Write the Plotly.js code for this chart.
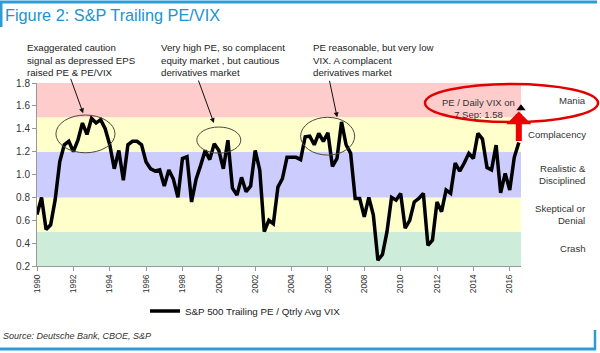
<!DOCTYPE html>
<html>
<head>
<meta charset="utf-8">
<script src="https://cdn.plot.ly/plotly-3.0.1.min.js"></script>
<style>html,body{margin:0;padding:0;background:#fff;}#chart{width:600px;height:353px;}</style>
</head>
<body>
<div id="chart"></div>
<script>
// Quarterly S&P 500 trailing PE / quarterly average VIX, starting 1990 Q1
const startYear = 1990;
const peVix = [
  0.65, 0.80, 0.52, 0.56,
  0.78, 1.11, 1.26, 1.29,
  1.20, 1.30, 1.45, 1.35,
  1.49, 1.45, 1.48, 1.40,
  1.26, 1.05, 1.21, 0.95,
  1.26, 1.29, 1.29, 1.26,
  1.11, 1.05, 1.03, 1.04,
  0.90, 1.04, 0.96, 0.80,
  1.14, 1.155, 0.76, 0.96,
  1.08, 1.21, 1.13, 1.27,
  1.21, 1.05, 1.30, 0.88,
  0.82, 0.975, 0.85, 0.90,
  1.21, 1.04, 0.50, 0.60,
  0.57, 0.89, 0.965, 1.15,
  1.15, 1.15, 1.13, 1.33,
  1.335, 1.26, 1.36, 1.29,
  1.365, 1.07, 1.14, 1.46,
  1.26, 1.185, 0.79, 0.79,
  0.63, 0.80, 0.645, 0.25,
  0.30, 0.50, 0.80, 0.775,
  0.835, 0.53, 0.60, 0.76,
  0.79, 0.835, 0.38, 0.425,
  0.76, 0.675, 0.865, 0.835,
  1.10, 1.03, 1.10, 1.185,
  1.14, 1.36, 1.31, 1.06,
  1.04, 1.257, 0.84, 1.01,
  0.865, 1.15, 1.28
];
const quarters = peVix.map((v, i) => startYear + i / 4);

// Latest daily reading (7 Sep)
const dailyX = [2016.62];
const dailyY = [1.58];

// Zones
const zoneBounds = [0.2, 0.5, 0.8, 1.2, 1.5, 1.8];
const zoneColors = ['#cdedda', '#ffffcc', '#ccccff', '#ffffcc', '#ffcccc'];
const zoneLabels = ['Crash', 'Skeptical or<br>Denial', 'Realistic &<br>Disciplined', 'Complacency', 'Mania'];
const zoneLabelY = [0.35, 0.65, 1.0, 1.35, 1.65];

const xTicks = [1990,1992,1994,1996,1998,2000,2002,2004,2006,2008,2010,2012,2014,2016];
const yTicks = [0.2,0.4,0.6,0.8,1.0,1.2,1.4,1.6,1.8];

// pixel -> paper helpers (plot area 37..521 x, 83..266 y)
const PL = 37, PR = 521, PT = 83, PB = 266;
const px = x => (x - PL) / (PR - PL);
const py = y => (PB - y) / (PB - PT);

const shapes = [];
for (let i = 0; i < zoneColors.length; i++) {
  shapes.push({type:'rect', xref:'paper', yref:'y', x0:0, x1:1, y0:zoneBounds[i], y1:zoneBounds[i+1],
    fillcolor:zoneColors[i], line:{width:0}, layer:'below'});
}
// highlight ellipses
const ellipses = [
  [1991.04, 1994.29, 1.19, 1.52],
  [1998.79, 2001.21, 1.187, 1.415],
  [2004.5, 2007.47, 1.17, 1.50]
];
ellipses.forEach(e => shapes.push({type:'circle', xref:'x', yref:'y', x0:e[0], x1:e[1], y0:e[2], y1:e[3],
  line:{color:'#4a4a3a', width:1}}));
// red ellipse
shapes.push({type:'circle', xref:'paper', yref:'paper', x0:px(425), x1:px(598), y0:py(122), y1:py(84),
  line:{color:'#e00000', width:2.5}});
// frame lines
const blue = '#2f9bd5';
shapes.push({type:'line', xref:'paper', yref:'paper', x0:px(0), x1:px(597), y0:py(2), y1:py(2), line:{color:blue, width:3}});
shapes.push({type:'line', xref:'paper', yref:'paper', x0:px(1), x1:px(1), y0:py(2), y1:py(27), line:{color:blue, width:3}});
shapes.push({type:'line', xref:'paper', yref:'paper', x0:px(0), x1:px(596), y0:py(349), y1:py(349), line:{color:blue, width:3}});
shapes.push({type:'line', xref:'paper', yref:'paper', x0:px(595), x1:px(595), y0:py(330), y1:py(350), line:{color:blue, width:2.5}});

const txtFont = {family:'Liberation Sans, Arial, sans-serif', size:9.7, color:'#222'};
const annotations = [
  {xref:'paper', yref:'paper', x:px(25), y:py(40), xanchor:'left', yanchor:'top', align:'left', showarrow:false,
   text:'Exaggerated caution<br>signal as depressed EPS<br>raised PE & PE/VIX', font:txtFont},
  {xref:'paper', yref:'paper', x:px(159), y:py(40), xanchor:'left', yanchor:'top', align:'left', showarrow:false,
   text:'Very high PE, so complacent<br>equity market , but cautious<br>derivatives market', font:txtFont},
  {xref:'paper', yref:'paper', x:px(311), y:py(40), xanchor:'left', yanchor:'top', align:'left', showarrow:false,
   text:'PE reasonable, but very low<br>VIX. A complacent<br>derivatives market', font:txtFont},
  // black arrows
  {x:1992.54, y:1.535, xref:'x', yref:'y', ax:-13, ay:-36, text:'', showarrow:true, arrowhead:2, arrowsize:1, arrowwidth:1, arrowcolor:'#111'},
  {x:1999.73, y:1.45, xref:'x', yref:'y', ax:-16, ay:-44, text:'', showarrow:true, arrowhead:2, arrowsize:1, arrowwidth:1, arrowcolor:'#111'},
  {x:2006.51, y:1.50, xref:'x', yref:'y', ax:-8, ay:-38, text:'', showarrow:true, arrowhead:2, arrowsize:1, arrowwidth:1, arrowcolor:'#111'},
  // red arrow
  {x:2016.5, y:1.55, xref:'x', yref:'y', ax:2016.5, ay:1.28, axref:'x', ayref:'y', text:'', showarrow:true,
   arrowhead:1, arrowsize:0.7, arrowwidth:6, arrowcolor:'#ee0000'},
  // red ellipse text
  {xref:'paper', yref:'paper', x:px(478), y:py(108), xanchor:'center', yanchor:'middle', align:'center', showarrow:false,
   text:'PE / Daily VIX on<br>7 Sep: 1.58', font:{family:'Liberation Sans, Arial, sans-serif', size:9.5, color:'#333'}},
  // source
  {xref:'paper', yref:'paper', x:px(1), y:py(336), xanchor:'left', yanchor:'middle', showarrow:false,
   text:'<i>Source: Deutsche Bank, CBOE, S&P</i>', font:{family:'Liberation Sans, Arial, sans-serif', size:9, color:'#333'}}
];
zoneLabels.forEach((t, i) => annotations.push({xref:'paper', yref:'y', x:px(588), y:zoneLabelY[i], xanchor:'right', yanchor:'middle',
  align:'right', showarrow:false, text:t, font:{family:'Liberation Sans, Arial, sans-serif', size:9.6, color:'#333'}}));

const traces = [
  {x:quarters, y:peVix, type:'scatter', mode:'lines', name:'S&P 500 Trailing PE / Qtrly Avg VIX',
   line:{color:'#000', width:3.5}, cliponaxis:false},
  {x:dailyX, y:dailyY, type:'scatter', mode:'markers', showlegend:false, name:'Daily',
   marker:{symbol:'triangle-up', size:8, color:'#000'}, cliponaxis:false}
];

const layout = {
  width:600, height:353,
  margin:{l:PL, r:600-PR, t:PT, b:353-PB},
  paper_bgcolor:'#fff', plot_bgcolor:'#fff',
  font:{family:'Liberation Sans, Arial, sans-serif', color:'#333'},
  title:{text:'Figure 2: S&P Trailing PE/VIX', x:5/600, xref:'container', xanchor:'left', y:1-15/353, yref:'container', yanchor:'middle',
    font:{family:'Liberation Sans, Arial, sans-serif', size:16.3, color:'#1d93cf'}},
  xaxis:{range:[1990, 2016.62], tickvals:xTicks, ticktext:xTicks.map(String), tickangle:-90,
    showgrid:false, zeroline:false, showline:true, linecolor:'#999', linewidth:1, ticks:'outside', ticklen:4, tickcolor:'#999',
    tickfont:{family:'Liberation Sans Narrow, Arial Narrow, sans-serif', size:8.5, color:'#333'}, fixedrange:true},
  yaxis:{range:[0.2, 1.8], tickvals:yTicks, ticktext:yTicks.map(v => v.toFixed(1)),
    showgrid:false, zeroline:false, showline:true, linecolor:'#999', linewidth:1, ticks:'outside', ticklen:4, tickcolor:'#999',
    tickfont:{family:'Liberation Sans, Arial, sans-serif', size:10, color:'#333'}, fixedrange:true},
  showlegend:true,
  legend:{orientation:'h', x:px(145), y:py(311), xanchor:'left', yanchor:'middle', bgcolor:'rgba(0,0,0,0)',
    font:{family:'Liberation Sans Narrow, Arial Narrow, Liberation Sans, sans-serif', size:9.8, color:'#222'}},
  shapes:shapes,
  annotations:annotations
};

Plotly.newPlot('chart', traces, layout, {displayModeBar:false, staticPlot:true});
</script>
</body>
</html>
